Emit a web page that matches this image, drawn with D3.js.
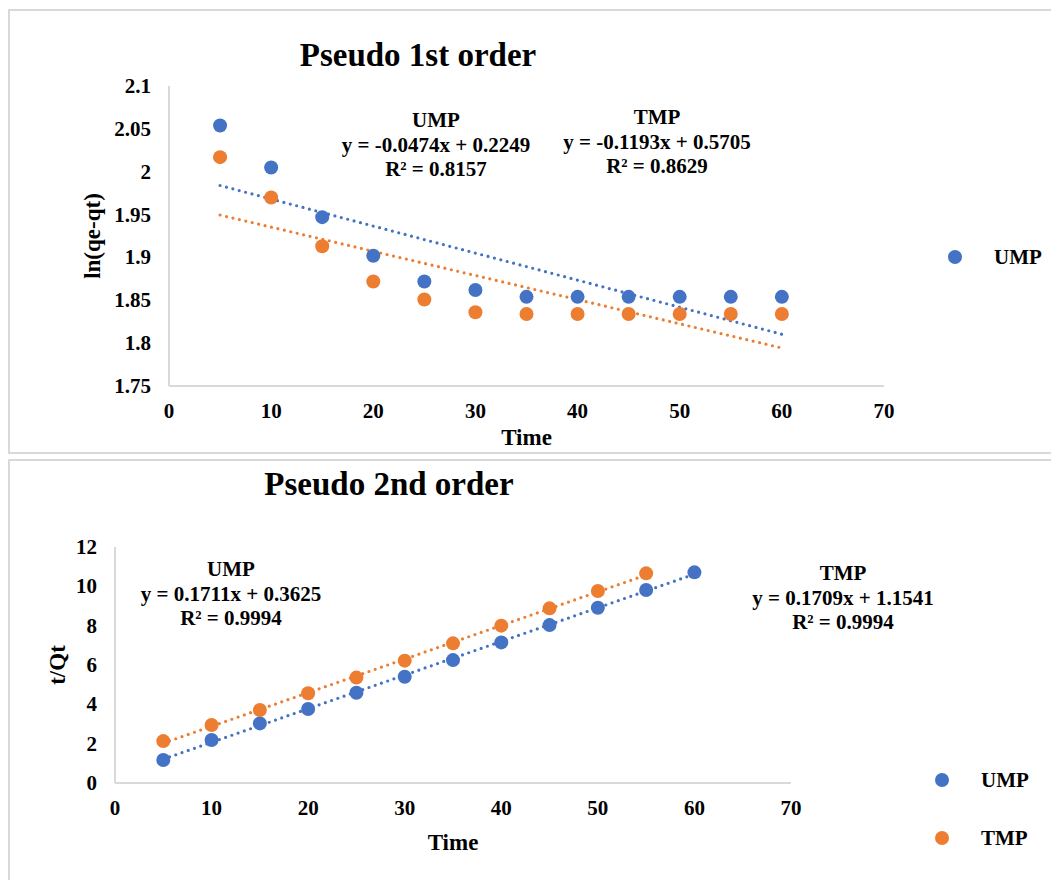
<!DOCTYPE html>
<html>
<head>
<meta charset="utf-8">
<script src="https://cdn.jsdelivr.net/npm/d3@7"></script>
<style>
  body { margin: 0; background: #fff; }
  svg text { font-family: "Liberation Serif", "Times New Roman", serif; font-weight: bold; fill: #000; }
</style>
</head>
<body>
<svg id="chart" width="1051" height="880"></svg>
<script>
// values
var time1 = [5, 10, 15, 20, 25, 30, 35, 40, 45, 50, 55, 60];
var ump1 = [2.054, 2.005, 1.947, 1.902, 1.872, 1.862, 1.854, 1.854, 1.854, 1.854, 1.854, 1.854];
var tmp1 = [2.017, 1.970, 1.913, 1.872, 1.851, 1.836, 1.834, 1.834, 1.834, 1.834, 1.834, 1.834];

var timeUmp2 = [5, 10, 15, 20, 25, 30, 35, 40, 45, 50, 55, 60];
var ump2 = [1.17, 2.19, 3.03, 3.76, 4.59, 5.40, 6.25, 7.15, 8.03, 8.91, 9.81, 10.71];
var timeTmp2 = [5, 10, 15, 20, 25, 30, 35, 40, 45, 50, 55];
var tmp2 = [2.13, 2.95, 3.71, 4.56, 5.36, 6.22, 7.10, 8.00, 8.88, 9.76, 10.66];

var xTicks = [0, 10, 20, 30, 40, 50, 60, 70];
var yTicks1 = [1.75, 1.8, 1.85, 1.9, 1.95, 2, 2.05, 2.1];
var yTicks2 = [0, 2, 4, 6, 8, 10, 12];

var eqTop = [
  {lines: ['UMP', 'y = -0.0474x + 0.2249', 'R² = 0.8157']},
  {lines: ['TMP', 'y = -0.1193x + 0.5705', 'R² = 0.8629']}
];
var eqBottom = [
  {lines: ['UMP', 'y = 0.1711x + 0.3625', 'R² = 0.9994']},
  {lines: ['TMP', 'y = 0.1709x + 1.1541', 'R² = 0.9994']}
];

var blue = '#4472c4';
var orange = '#ed7d31';
var grid = '#d9d9d9';

var svg = d3.select('#chart');

// panel frames
svg.append('rect').attr('x', 9).attr('y', 10).attr('width', 1100).attr('height', 443)
  .attr('fill', '#fff').attr('stroke', grid).attr('stroke-width', 2);
svg.append('rect').attr('x', 9).attr('y', 460).attr('width', 1100).attr('height', 440)
  .attr('fill', '#fff').attr('stroke', grid).attr('stroke-width', 2);

// least squares line through the points, like excel's linear trendline
function fit(xs, ys) {
  var mx = d3.mean(xs), my = d3.mean(ys);
  var sxy = d3.sum(xs, function(x, i) { return (x - mx) * (ys[i] - my); });
  var sxx = d3.sum(xs, function(x) { return (x - mx) * (x - mx); });
  var b = sxy / sxx;
  var a = my - b * mx;
  var x0 = d3.min(xs), x1 = d3.max(xs);
  return [[x0, a + b * x0], [x1, a + b * x1]];
}

function drawPanel(cfg) {
  var g = svg.append('g');
  var x = d3.scaleLinear().domain([0, 70]).range([cfg.left, cfg.right]);
  var y = d3.scaleLinear().domain(cfg.yDomain).range([cfg.bottom, cfg.top]);

  // axis lines
  g.append('line').attr('x1', cfg.left).attr('x2', cfg.left)
    .attr('y1', cfg.top).attr('y2', cfg.bottom)
    .attr('stroke', grid).attr('stroke-width', 2);
  g.append('line').attr('x1', cfg.left).attr('x2', cfg.right)
    .attr('y1', cfg.bottom).attr('y2', cfg.bottom)
    .attr('stroke', grid).attr('stroke-width', 2);

  // tick labels
  g.selectAll('.yt').data(cfg.yTicks).enter().append('text')
    .attr('x', cfg.left - 18).attr('y', function(d) { return y(d) + 7; })
    .attr('text-anchor', 'end').attr('font-size', 21)
    .text(function(d) { return String(+d.toFixed(2)); });
  g.selectAll('.xt').data(xTicks).enter().append('text')
    .attr('x', function(d) { return x(d); }).attr('y', cfg.bottom + 32)
    .attr('text-anchor', 'middle').attr('font-size', 21)
    .text(function(d) { return d; });

  // axis titles
  g.append('text').attr('x', (cfg.left + cfg.right) / 2).attr('y', cfg.xTitleY)
    .attr('text-anchor', 'middle').attr('font-size', 23).text('Time');
  g.append('text')
    .attr('transform', 'translate(' + cfg.yTitleX + ',' + (cfg.top + cfg.bottom) / 2 + ') rotate(-90)')
    .attr('text-anchor', 'middle').attr('font-size', 23).text(cfg.yTitle);

  // chart title
  g.append('text').attr('x', cfg.titleX).attr('y', cfg.titleY)
    .attr('text-anchor', 'middle').attr('font-size', 33).text(cfg.title);

  var line = d3.line().x(function(d) { return x(d[0]); }).y(function(d) { return y(d[1]); });

  // series: trendline first, dots on top
  cfg.series.forEach(function(s) {
    g.append('path').datum(fit(s.xs, s.ys)).attr('d', line)
      .attr('fill', 'none').attr('stroke', s.color).attr('stroke-width', 3.2)
      .attr('stroke-linecap', 'round').attr('stroke-dasharray', '0,6.6');
  });
  cfg.series.forEach(function(s) {
    g.selectAll(null).data(s.xs).enter().append('circle')
      .attr('cx', function(d) { return x(d); })
      .attr('cy', function(d, i) { return y(s.ys[i]); })
      .attr('r', 7).attr('fill', s.color);
  });

  // equation labels
  cfg.labels.forEach(function(lb) {
    lb.lines.forEach(function(t, i) {
      g.append('text').attr('x', lb.x).attr('y', lb.y + i * 24.5)
        .attr('text-anchor', 'middle').attr('font-size', 21).text(t);
    });
  });

  // legend
  cfg.legend.forEach(function(l) {
    g.append('circle').attr('cx', l.x).attr('cy', l.y).attr('r', 7).attr('fill', l.color);
    g.append('text').attr('x', l.x + 39).attr('y', l.y + 7)
      .attr('font-size', 21).text(l.name);
  });
}

drawPanel({
  left: 169, right: 884, top: 86, bottom: 386,
  yDomain: [1.75, 2.1], yTicks: yTicks1,
  title: 'Pseudo 1st order', titleX: 418, titleY: 66,
  yTitle: 'ln(qe-qt)', yTitleX: 100, xTitleY: 445,
  series: [
    {xs: time1, ys: ump1, color: blue},
    {xs: time1, ys: tmp1, color: orange}
  ],
  labels: [
    {x: 436, y: 127, lines: eqTop[0].lines},
    {x: 657, y: 124, lines: eqTop[1].lines}
  ],
  legend: [{name: 'UMP', color: blue, x: 955, y: 257}]
});

drawPanel({
  left: 115, right: 791, top: 547, bottom: 783,
  yDomain: [0, 12], yTicks: yTicks2,
  title: 'Pseudo 2nd order', titleX: 389, titleY: 495,
  yTitle: 't/Qt', yTitleX: 65, xTitleY: 850,
  series: [
    {xs: timeUmp2, ys: ump2, color: blue},
    {xs: timeTmp2, ys: tmp2, color: orange}
  ],
  labels: [
    {x: 231, y: 576, lines: eqBottom[0].lines},
    {x: 843, y: 580, lines: eqBottom[1].lines}
  ],
  legend: [
    {name: 'UMP', color: blue, x: 942, y: 780},
    {name: 'TMP', color: orange, x: 942, y: 838}
  ]
});
</script>
</body>
</html>
